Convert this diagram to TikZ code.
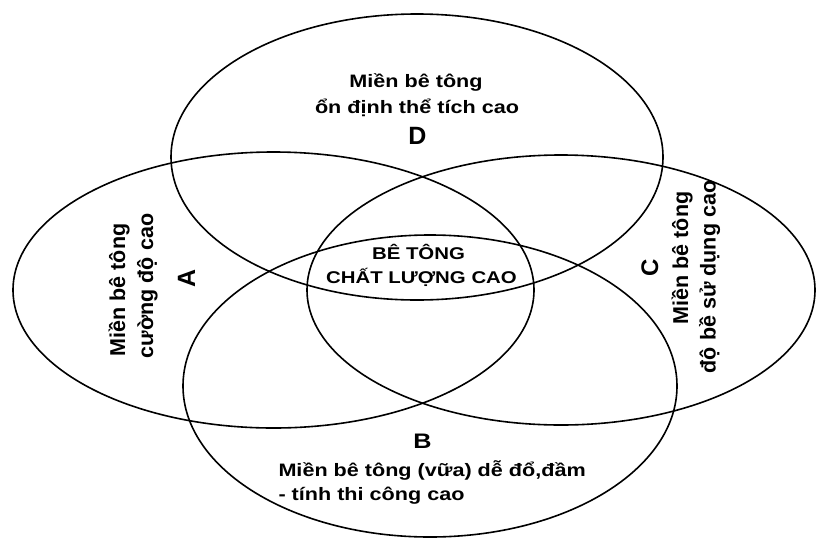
\documentclass[tikz,border=0pt]{standalone}
\usepackage{fontspec}
\setmainfont{Liberation Sans}
\newfontfamily\wfont{Liberation Sans}[FakeStretch=1.2]
\begin{document}
\begin{tikzpicture}[x=1pt,y=-1pt,
  ring/.style={line width=1.6pt},
  htext/.style={font=\wfont\bfseries\fontsize{18}{22}\selectfont, anchor=base, inner sep=0pt},
  ctext/.style={font=\wfont\bfseries\fontsize{17}{21}\selectfont, anchor=base, inner sep=0pt},
  vtext/.style={font=\bfseries\fontsize{21.5}{26}\selectfont, anchor=base, rotate=90, inner sep=0pt},
  bigletter/.style={font=\bfseries\fontsize{25}{30}\selectfont, anchor=base, inner sep=0pt},
]
\useasboundingbox[fill=white] (0,0) rectangle (817,539);
% ellipses
\draw[ring] (417,157) ellipse [x radius=246, y radius=143];
\draw[ring] (273.5,290) ellipse [x radius=260.5, y radius=138];
\draw[ring] (561,290) ellipse [x radius=254, y radius=135];
\draw[ring] (430,386) ellipse [x radius=247, y radius=151];
% D
\node[htext] (d1) at (416,87.3) {Miền bê tông};
\node[htext] (d2) at (417,113.3) {ổn định thể tích cao};
\node[bigletter] (dl) at (417.5,144.3) {D};
% centre
\node[ctext] (q1) at (418.5,259) {BÊ TÔNG};
\node[ctext] (q2) at (421.5,283.3) {CHẤT LƯỢNG CAO};
% B
\node[htext,font=\wfont\bfseries\fontsize{21}{25}\selectfont] (bl) at (422.5,448.3) {B};
\node[htext,anchor=base west] (b1) at (278.3,476.7) {Miền bê tông (vữa) dễ đổ,đầm};
\node[htext,anchor=base west] (b2) at (278.3,500) {- tính thi công cao};
% A
\node[vtext] (a1) at (125,290) {Miền bê tông};
\node[vtext] (a2) at (153,286) {cường độ cao};
\node[bigletter,rotate=90] (al) at (195,278) {A};
% C
\node[bigletter,rotate=90,font=\bfseries\fontsize{24}{28}\selectfont] (cl) at (658,267.5) {C};
\node[vtext] (c1) at (688,258) {Miền bê tông};
\node[vtext] (c2) at (715.5,277) {độ bề sử dụng cao};
\end{tikzpicture}
\end{document}
